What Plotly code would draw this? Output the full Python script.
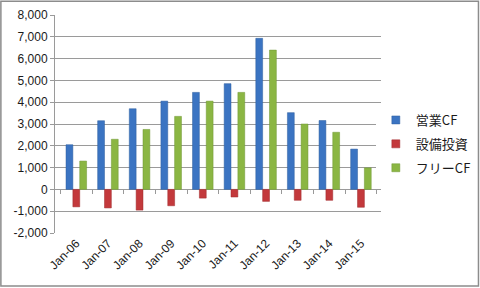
import plotly.graph_objects as go

categories = ["Jan-06", "Jan-07", "Jan-08", "Jan-09", "Jan-10",
              "Jan-11", "Jan-12", "Jan-13", "Jan-14", "Jan-15"]
operating_cf = [2050, 3150, 3700, 4050, 4450, 4850, 6930, 3520, 3160, 1850]
capex = [-800, -850, -950, -750, -400, -350, -550, -500, -500, -820]
free_cf = [1300, 2300, 2750, 3350, 4050, 4450, 6390, 3000, 2620, 990]
y_ticks = list(range(-2000, 8001, 1000))
y_tick_text = [f"{v:,}" for v in y_ticks]

names = ["営業CF", "設備投資", "フリーCF"]
colors = ["#3b74c2", "#c3393c", "#8bb643"]
lines = ["#2e5f9f", "#9e2a2c", "#6f9632"]

fig = go.Figure()
for name, vals, c, lc in zip(names, [operating_cf, capex, free_cf], colors, lines):
    fig.add_trace(go.Bar(x=categories, y=vals, name=name, showlegend=False,
                         legendgroup=name,
                         marker=dict(color=c, line=dict(color=lc, width=0.5))))
for name, c, lc in zip(names, colors, lines):
    fig.add_trace(go.Scatter(x=[categories[0]], y=[None], name=name, mode="markers",
                             legendgroup=name, hoverinfo="skip",
                             marker=dict(symbol="square", size=8, color=c,
                                         line=dict(color=lc, width=0.5))))

fig.update_layout(
    width=480, height=288,
    margin=dict(l=55, r=99, t=15, b=55, autoexpand=False),
    paper_bgcolor="white", plot_bgcolor="white",
    barmode="group", bargap=0.35, bargroupgap=0,
    font=dict(family="Liberation Sans", size=12, color="#1a1a1a"),
    showlegend=True,
    legend=dict(xref="container", yref="container", x=0.783, y=0.5,
                xanchor="left", yanchor="middle",
                font=dict(family="Noto Sans CJK JP", size=13, color="#1a1a1a"),
                itemwidth=30, traceorder="grouped", tracegroupgap=4),
    xaxis=dict(type="category", showgrid=False, showline=False, ticks="",
               tickangle=-45, tickfont=dict(size=12)),
    xaxis2=dict(type="category", overlaying="x", anchor="free", position=0.2,
                matches="x", showticklabels=False, ticks="outside", ticklen=4,
                tickcolor="#999", tickson="boundaries", showline=False,
                showgrid=False),
    yaxis=dict(range=[-2000, 8000], tickvals=y_ticks, ticktext=y_tick_text,
               showgrid=True, gridcolor="#9a9a9a", gridwidth=1,
               zeroline=True, zerolinecolor="#9a9a9a", zerolinewidth=1,
               showline=True, linecolor="#9a9a9a", linewidth=1,
               ticks="outside", ticklen=4, tickcolor="#9a9a9a"),
    shapes=[dict(type="rect", xref="paper", yref="paper",
                 x0=-0.166, x1=1.299, y0=-0.243, y1=1.063,
                 line=dict(color="#8c8c8c", width=1.5))],
)
fig.add_trace(go.Scatter(x=categories, y=[None]*len(categories), xaxis="x2",
                         showlegend=False, hoverinfo="skip"))

fig.write_html("out.html")
